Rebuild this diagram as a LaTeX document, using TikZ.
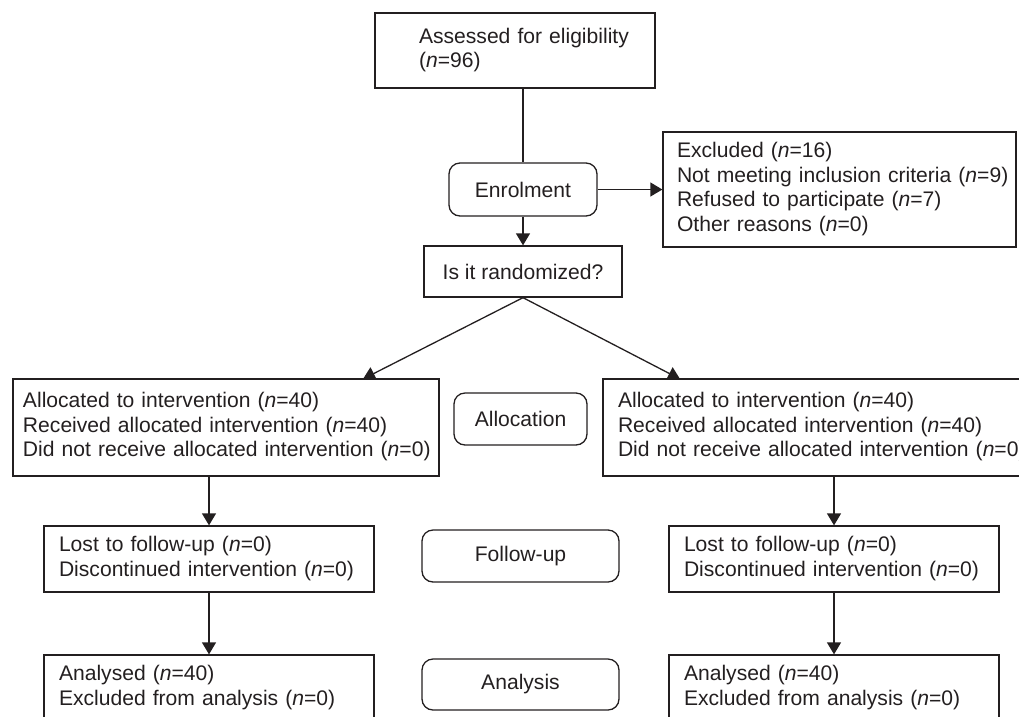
\documentclass[tikz,border=0pt]{standalone}
\usepackage{fontspec}
\setmainfont{Liberation Sans}
\usetikzlibrary{arrows.meta}

\definecolor{ink}{RGB}{35,31,32}
\newcommand{\nval}[1]{(\textit{n}=#1)}
\newcommand{\boxtext}[1]{\noindent\begin{tabular}{@{}l@{}}#1\end{tabular}}

\begin{document}
\begin{tikzpicture}[x=1pt,y=1pt,yscale=-1,xscale=1,
  every node/.style={text=ink,font=\fontsize{21.1}{24.5}\selectfont},
  box/.style={draw=ink,line width=1.3pt,rectangle,align=left,inner ysep=0pt},
  stage/.style={draw=ink,line width=1.3pt,rounded corners=11pt,align=center,inner sep=0pt},
  arr/.style={draw=ink,line width=1.3pt,-{Triangle[length=12pt,width=14pt]}}]
\useasboundingbox (0,0) rectangle (1019,716);
\clip (0,0) rectangle (1019,716);

%Shape: Rectangle [assessed]
\node (assess) at (515,50.5) [box,minimum width=280,minimum height=75,inner xsep=44,text width=192]
  {\boxtext{Assessed for eligibility\\ \nval{96}}};
%Shape: Rounded Rectangle [enrolment]
\node (enrol) at (523,189.5) [stage,minimum width=148,minimum height=53] {Enrolment};
%Shape: Rectangle [excluded]
\node (excl) at (839.5,189.5) [box,minimum width=353,minimum height=115,inner xsep=14,text width=325]
  {\boxtext{Excluded \nval{16}\\ Not meeting inclusion criteria \nval{9}\\ Refused to participate \nval{7}\\ Other reasons \nval{0}}};
%Shape: Rectangle [randomized]
\node (rand) at (523,271.5) [box,align=center,inner sep=0pt,minimum width=198,minimum height=51] {Is it randomized?};

%Shape: Rectangle [allocation, left]
\node (allocL) at (226,427.5) [box,minimum width=426,minimum height=97,inner xsep=10,text width=406]
  {\boxtext{Allocated to intervention \nval{40}\\ Received allocated intervention \nval{40}\\ Did not receive allocated intervention \nval{0}}};
%Shape: Rounded Rectangle [allocation]
\node (allocS) at (520.5,419) [stage,minimum width=133,minimum height=52] {Allocation};
%Shape: Rectangle [allocation, right]
\node (allocR) at (816,427.5) [box,minimum width=426,minimum height=97,inner xsep=15,text width=396]
  {\boxtext{Allocated to intervention \nval{40}\\ Received allocated intervention \nval{40}\\ Did not receive allocated intervention \nval{0}}};

%Shape: Rectangle [follow-up, left]
\node (followL) at (209,559) [box,minimum width=330,minimum height=66,inner xsep=15,text width=300]
  {\boxtext{Lost to follow-up \nval{0}\\ Discontinued intervention \nval{0}}};
%Shape: Rounded Rectangle [follow-up]
\node (followS) at (520.5,556) [stage,minimum width=197,minimum height=52] {Follow-up};
%Shape: Rectangle [follow-up, right]
\node (followR) at (834,559) [box,minimum width=330,minimum height=66,inner xsep=15,text width=300]
  {\boxtext{Lost to follow-up \nval{0}\\ Discontinued intervention \nval{0}}};

%Shape: Rectangle [analysis, left]
\node (analL) at (209,688) [box,minimum width=330,minimum height=66,inner xsep=15,text width=300]
  {\boxtext{Analysed \nval{40}\\ Excluded from analysis \nval{0}}};
%Shape: Rounded Rectangle [analysis]
\node (analS) at (520.5,684.5) [stage,minimum width=197,minimum height=51] {Analysis};
%Shape: Rectangle [analysis, right]
\node (analR) at (834,688) [box,minimum width=330,minimum height=66,inner xsep=15,text width=300]
  {\boxtext{Analysed \nval{40}\\ Excluded from analysis \nval{0}}};

%Arrow ends on the allocation boxes
\coordinate (tipL) at (363,379);
\coordinate (tipR) at (680,379);

%Straight Lines
\draw [draw=ink,line width=1.3pt] (assess.south -| enrol.north) -- (enrol.north);
\draw [arr] (enrol) -- (excl);
\draw [arr] (enrol) -- (rand);
\draw [arr] (rand.south) -- (tipL);
\draw [arr] (rand.south) -- (tipR);
\draw [arr] (allocL.south -| followL.north) -- (followL);
\draw [arr] (allocR.south -| followR.north) -- (followR);
\draw [arr] (followL) -- (analL);
\draw [arr] (followR) -- (analR);

\end{tikzpicture}
\end{document}
